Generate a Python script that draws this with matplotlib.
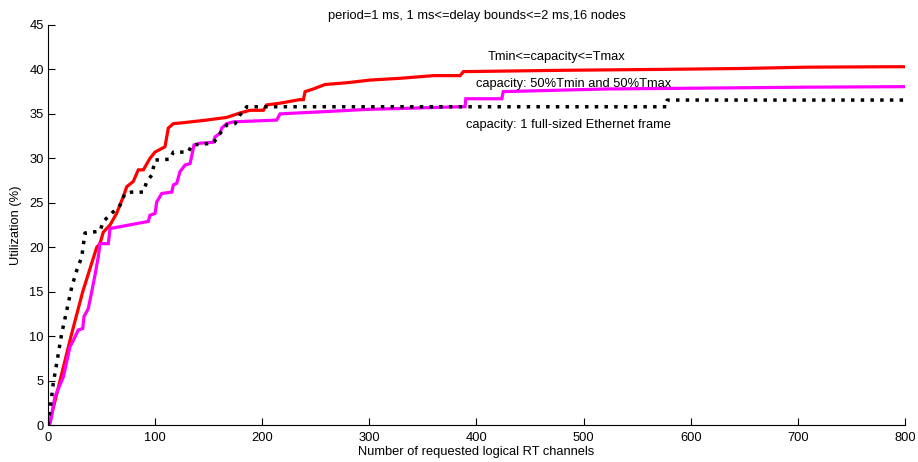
import matplotlib
matplotlib.use("Agg")
import matplotlib.pyplot as plt

plt.rcParams['font.family'] = ['Liberation Sans', 'DejaVu Sans']

# Tmin<=capacity<=Tmax (red)
red_x = [0, 2, 21.5, 32.4, 45.5, 48.5, 51.6, 57.9, 64, 70.3, 73.5, 79.6, 84.3, 89, 95.2, 99.9,
         109.2, 112.3, 117, 126, 148, 166.8, 179.3, 188.6, 201, 204, 216.6, 235, 238.4, 240,
         247.7, 258.6, 279, 300.7, 328.7, 359.8, 384.7, 387.8, 481, 571, 646, 708, 786, 800]
red_y = [0, 0.5, 10, 15, 20, 20.4, 21.7, 22.5, 23.8, 25.7, 26.8, 27.4, 28.7, 28.7, 30, 30.7,
         31.3, 33.4, 33.9, 34.0, 34.3, 34.6, 35.1, 35.4, 35.4, 36.0, 36.2, 36.6, 36.6, 37.5,
         37.8, 38.3, 38.5, 38.8, 39.0, 39.3, 39.3, 39.75, 39.9, 40.0, 40.1, 40.25, 40.3, 40.3]

# capacity: 50%Tmin and 50%Tmax (magenta)
mag_x = [0, 2, 6.5, 14.3, 20.5, 23.6, 28.3, 32.4, 33.6, 37.6, 40.8, 43.9, 46.9, 48.5, 56.3,
         57.9, 93.6, 95.2, 99.9, 101.5, 106.2, 115.5, 117, 120.2, 123.2, 128, 132.6, 136.3,
         141.9, 154.3, 155.9, 160.6, 162.2, 166.8, 173, 213.5, 216.6, 266.4, 297.6, 384.7,
         389.3, 390, 423.6, 425, 521.6, 615, 708, 800]
mag_y = [0, 0.2, 3.2, 5.4, 8.8, 9.5, 10.7, 10.85, 12.2, 13.1, 15, 16.9, 18.9, 20.4, 20.4,
         22.1, 22.9, 23.6, 23.8, 25.1, 26.05, 26.2, 27.0, 27.2, 28.5, 29.25, 29.4, 31.5,
         31.7, 31.8, 32.4, 32.8, 33.4, 33.9, 34.1, 34.3, 35.0, 35.3, 35.5, 35.8,
         35.8, 36.7, 36.7, 37.5, 37.8, 37.9, 38.0, 38.06]

# capacity: 1 full-sized Ethernet frame (black dotted)
blk_x = [0, 1.9, 4.9, 9.6, 12.8, 17.5, 22.1, 26.8, 31.5, 34.5, 48.5, 51.6, 61, 67.2, 71.9,
         78.1, 89, 92.2, 96.8, 99.9, 113.9, 117, 131, 134.2, 154.3, 160.6, 166.8, 174.6,
         179.3, 185.5, 577.6, 578, 800]
blk_y = [0, 1.7, 4.7, 8.0, 10.3, 12.9, 15.5, 17.4, 18.9, 21.6, 21.8, 22.9, 24.0, 24.7, 26.05,
         26.2, 26.2, 27.4, 28.1, 29.8, 29.9, 30.7, 30.7, 31.5, 31.7, 32.8, 33.75, 33.9,
         34.9, 35.8, 35.8, 36.55, 36.55]

fs = 9.3

fig = plt.figure(figsize=(9.18, 4.62), dpi=100)
ax = fig.add_axes([0.0523, 0.080, 0.9335, 0.866])

ax.plot(red_x, red_y, color='#ff0000', lw=2.3, solid_joinstyle='miter')
ax.plot(mag_x, mag_y, color='#ff00ff', lw=2.3, solid_joinstyle='miter')
ax.plot(blk_x, blk_y, color='black', lw=2.5, linestyle=(0, (1, 1.8)), dash_capstyle='butt')

ax.text(410, 41.4, 'Tmin<=capacity<=Tmax', fontsize=fs, va='center')
ax.text(400, 38.4, 'capacity: 50%Tmin and 50%Tmax', fontsize=fs, va='center')
ax.text(390, 33.7, 'capacity: 1 full-sized Ethernet frame', fontsize=fs, va='center')

ax.set_xlim(0, 800)
ax.set_ylim(0, 45)
ax.set_xticks(range(0, 801, 100))
ax.set_yticks(range(0, 46, 5))
ax.tick_params(direction='in', labelsize=fs, length=5, width=0.8)
ax.tick_params(axis='x', pad=5)
ax.tick_params(axis='y', pad=3)
for s in ['top', 'right']:
    ax.spines[s].set_visible(False)
ax.set_xlabel('Number of requested logical RT channels', fontsize=fs, labelpad=1.5)
ax.set_ylabel('Utilization (%)', fontsize=fs, labelpad=5)
ax.set_title('period=1 ms, 1 ms<=delay bounds<=2 ms,16 nodes', fontsize=fs, pad=4)

fig.savefig('out.png', dpi=100)
